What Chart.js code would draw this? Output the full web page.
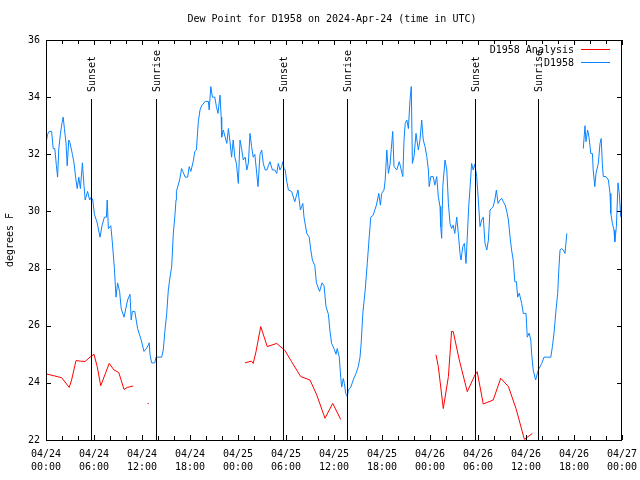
<!DOCTYPE html>
<html>
<head>
<meta charset="utf-8">
<style>
html,body{margin:0;padding:0;background:#fff;}
canvas{display:block;}
</style>
<script src="https://cdn.jsdelivr.net/npm/chart.js@4/dist/chart.umd.min.js"></script>
</head>
<body>
<canvas id="c" width="640" height="480"></canvas>
<script>
// ---- data (hours since 04/24 00:00 UTC) ----
const chartTitle = "Dew Point for D1958 on 2024-Apr-24 (time in UTC)";
const yAxisLabel = "degrees F";
const seriesNames = ["D1958 Analysis", "D1958"];
const seriesColors = ["#ff0000", "#0a84ff"];

const xTickLabels = [
  ["04/24","00:00"],["04/24","06:00"],["04/24","12:00"],["04/24","18:00"],
  ["04/25","00:00"],["04/25","06:00"],["04/25","12:00"],["04/25","18:00"],
  ["04/26","00:00"],["04/26","06:00"],["04/26","12:00"],["04/26","18:00"],
  ["04/27","00:00"]
];
const yTickValues = [22,24,26,28,30,32,34,36];

const eventTimes  = [5.66, 13.79, 29.66, 37.66, 53.66, 61.54];
const eventLabels = ["Sunset","Sunrise","Sunset","Sunrise","Sunset","Sunrise"];

const blueTimes = [
0,0.2,0.4,0.7,0.9,1.1,1.3,1.45,1.6,1.8,2.0,2.15,2.3,2.5,2.65,2.85,3.0,3.3,3.5,3.7,3.9,4.1,4.3,4.55,4.75,4.9,5.2,5.45,5.65,5.85,
6.05,6.4,6.75,7.0,7.3,7.55,7.65,7.8,8.1,8.3,8.55,8.75,8.95,9.2,9.4,9.75,10.2,10.5,10.65,10.8,11.1,11.45,11.9,12.25,12.55,12.75,12.9,13.0,13.2,13.6,
13.75,14.46,14.66,14.875,15.09,15.29,15.5,15.71,15.91,16.125,16.25,16.3,16.7,16.95,17.1,17.4,17.7,17.9,18.1,18.4,18.6,18.8,19.04,19.25,19.46,19.9,20.3,20.4,20.6,20.8,
21.1,21.3,21.5,21.75,21.9,21.96,22.16,22.4,22.6,22.8,23.0,23.2,23.4,23.6,23.8,24.04,24.25,24.45,24.66,24.9,25.1,25.3,25.5,25.7,25.9,26.1,26.3,26.5,26.75,26.96,
27.16,27.4,27.6,27.8,28.0,28.3,28.6,28.84,29.04,29.25,29.46,29.6,29.75,29.9,30.1,30.3,30.7,31.1,31.5,31.8,32.1,32.25,32.6,32.9,33.1,33.3,33.6,33.8,34.2,34.5,
34.75,35.0,35.3,35.5,35.7,36.0,36.25,36.4,36.66,36.84,36.96,37.16,37.3,37.46,37.66,37.8,38.1,38.4,38.75,39.04,39.25,39.4,39.6,39.9,40.16,40.4,40.6,40.9,41.1,41.3,
41.6,41.8,41.96,42.25,42.4,42.6,42.8,43.0,43.34,43.5,43.84,44.16,44.6,44.75,44.9,45.1,45.3,45.5,45.66,45.8,46.0,46.25,46.54,46.75,46.96,47.16,47.375,47.6,47.8,47.9,
48.1,48.4,48.6,48.84,49.04,49.25,49.34,49.46,49.6,49.875,50.1,50.3,50.5,50.7,50.9,51.1,51.34,51.54,51.75,51.875,52.1,52.3,52.5,52.66,52.84,53.0,53.2,53.4,53.6,53.84,
54.04,54.25,54.46,54.66,54.875,55.1,55.3,55.5,55.7,55.9,56.1,56.3,56.5,56.75,56.96,57.16,57.4,57.6,57.8,58.0,58.2,58.4,58.6,58.8,58.96,59.16,59.46,59.66,60.0,60.16,
60.4,60.6,60.7,60.9,61.2,61.54,61.96,62.25,62.6,63.1,63.3,63.5,63.75,63.96,64.1,64.25,64.46,64.66,64.875,65.1,
66,
67.16,67.375,67.5,67.7,67.875,68.1,68.3,68.4,68.6,68.75,69.04,69.25,69.4,69.54,69.66,70.0,70.3,70.5,70.6,70.8,71.0,71.1,71.3,71.5,71.66,71.84,71.95
];
const blueValues = [
32.4,32.7,32.8,32.8,32.2,32.2,31.6,31.2,32.2,32.7,33.1,33.3,32.9,32.4,31.6,32.5,32.4,32.0,31.7,31.2,30.8,31.2,30.8,31.7,30.9,30.4,30.7,30.4,30.5,30.4,
29.9,29.6,29.1,29.5,29.8,29.8,30.4,29.4,29.5,28.9,28.0,27.0,27.5,27.2,26.6,26.3,26.9,27.1,26.2,26.5,26.5,25.9,25.5,25.1,25.2,25.3,25.4,25.0,24.7,24.7,
24.9,24.9,25.15,25.85,26.44,27.25,27.7,28.06,29.2,29.9,30.4,30.7,31.1,31.5,31.4,31.2,31.2,31.57,31.4,31.74,32.1,32.15,33.14,33.55,33.7,33.85,33.85,33.55,34.37,34.0,
34.0,33.67,33.43,34.07,33.3,32.6,32.85,32.6,32.38,32.9,32.44,31.9,32.5,31.9,31.68,30.98,32.5,32.2,31.8,31.9,31.45,31.7,32.73,32.27,31.9,32.0,31.45,30.87,32.0,32.15,
31.68,31.45,31.45,31.6,31.74,31.45,31.45,31.33,31.68,31.45,31.57,31.74,31.5,31.45,31.04,30.75,30.7,30.34,30.75,30.05,30.28,29.8,29.23,29.1,28.65,28.3,28.1,27.5,27.2,27.5,
27.4,26.67,26.4,25.8,25.38,25.2,25.0,25.2,24.9,24.2,23.85,24.15,23.98,23.63,23.52,23.75,23.85,24.1,24.33,24.57,24.9,25.4,26.43,27.25,28.18,29.1,29.8,29.87,30.05,30.22,
30.63,30.22,30.63,30.75,31.1,32.15,31.33,31.63,32.8,31.57,31.45,31.74,31.22,32.5,33.08,33.2,32.9,33.9,34.37,31.68,31.92,32.73,32.15,32.5,33.2,32.5,32.27,31.92,31.45,30.87,
31.22,31.22,30.92,31.22,30.52,30.17,29.47,29.06,30.87,31.8,31.45,30.28,29.58,29.4,29.52,29.23,29.8,29.23,28.53,28.3,28.77,28.88,28.18,29.1,30.17,30.8,31.68,31.45,31.65,31.22,
30.4,29.47,29.7,29.8,28.88,28.65,29.0,30.05,30.1,30.17,30.4,30.75,30.28,30.4,30.46,30.34,30.22,29.99,29.7,29.12,28.65,28.3,27.54,27.54,27.0,27.14,26.78,26.43,26.43,25.6,
25.74,25.5,25.03,24.45,24.1,24.45,24.68,24.9,24.9,24.9,25.27,25.74,26.55,27.13,27.95,28.65,28.7,28.65,28.53,29.23,
null,
32.2,33.0,32.44,32.85,32.6,32.03,32.03,31.45,30.87,31.33,31.68,32.38,32.55,31.68,31.22,31.22,31.1,30.63,29.93,29.58,29.35,28.94,29.47,31.0,30.63,29.82,30.4
];

const redTimes = [
0.08,1.1,1.96,2.9,3.2,3.75,4.3,4.9,5.5,6.0,6.4,6.84,7.4,7.9,8.5,9.1,9.75,10.16,10.9,
11.8,
12.7,12.85,
18,
24.875,25.7,25.9,26.25,26.84,27.66,28.84,29.875,30.7,31.84,33.0,33.84,34.875,35.84,36.84,
42,
48.75,49.04,49.66,50.3,50.7,50.9,51.66,52.66,53.625,53.9,54.66,55.9,56.84,57.8,58.75,59.8,60.8
];
const redValues = [
24.31,24.24,24.18,23.84,24.1,24.78,24.76,24.75,24.9,25.0,24.57,23.9,24.31,24.68,24.45,24.36,23.77,23.84,23.89,
null,
23.28,23.28,
null,
24.7,24.76,24.68,25.09,25.97,25.27,25.38,25.13,24.74,24.22,24.1,23.58,22.76,23.28,22.72,
null,
24.98,24.57,23.1,24.22,25.8,25.8,24.8,23.69,24.28,24.39,23.26,23.4,24.16,23.87,23.1,22.02,22.23
];

const FONT = "DejaVu Sans Mono";

function toXY(ts, vs){ return ts.map((t,i)=>({x:t, y:vs[i]})); }

const decor = {
  id: 'decor',
  beforeDraw(chart){
    const c = chart.ctx;
    c.save(); c.fillStyle = '#fff'; c.fillRect(0,0,chart.width,chart.height); c.restore();
  },
  afterDatasetsDraw(chart){
    const c = chart.ctx, a = chart.chartArea;
    const xs = chart.scales.x, ys = chart.scales.y;
    c.save();
    c.strokeStyle = '#000'; c.lineWidth = 1;
    // event lines
    c.font = "10px '" + FONT + "'";
    c.fillStyle = '#000';
    eventTimes.forEach((t,i)=>{
      const px = Math.round(xs.getPixelForValue(t)) + 0.5;
      c.beginPath(); c.moveTo(px, a.top + 59); c.lineTo(px, a.bottom); c.stroke();
      c.save();
      c.translate(px + 1, a.top + 52);
      c.rotate(-Math.PI/2);
      c.textAlign = 'left'; c.textBaseline = 'middle';
      c.fillText(eventLabels[i], 0, 0);
      c.restore();
    });
    // border
    c.strokeRect(a.left + 0.5, a.top + 0.5, a.right - a.left - 1, a.bottom - a.top);
    // x ticks (every 2 h, major every 6 h)
    for (let t = xs.min; t <= xs.max + 1e-9; t += 2) {
      const px = Math.round(xs.getPixelForValue(t)) + 0.5;
      const len = (t % 6 === 0) ? 5 : 4;
      c.beginPath();
      c.moveTo(px, a.bottom); c.lineTo(px, a.bottom - len);
      c.moveTo(px, a.top); c.lineTo(px, a.top + len);
      c.stroke();
    }
    // y ticks
    yTickValues.forEach(v=>{
      const py = Math.round(ys.getPixelForValue(v)) + 0.5;
      c.beginPath();
      c.moveTo(a.left, py); c.lineTo(a.left + 5, py);
      c.moveTo(a.right, py); c.lineTo(a.right - 5, py);
      c.stroke();
    });
    // legend
    c.textAlign = 'right'; c.textBaseline = 'middle';
    chart.data.datasets.forEach((ds,i)=>{
      const ly = a.top + 10 + i * 13;
      c.fillStyle = '#000';
      c.fillText(ds.label, 574, ly);
      c.strokeStyle = ds.borderColor;
      c.beginPath(); c.moveTo(581, Math.round(ly) - 0.5); c.lineTo(610, Math.round(ly) - 0.5); c.stroke();
    });
    c.restore();
  },
  afterDraw(chart){
    const c = chart.ctx, a = chart.chartArea;
    c.save();
    c.fillStyle = '#000';
    c.font = "10px '" + FONT + "'";
    c.textAlign = 'center'; c.textBaseline = 'middle';
    c.fillText(chartTitle, (a.left + a.right)/2 - 2, 19);
    c.translate(10, 240);
    c.rotate(-Math.PI/2);
    c.fillText(yAxisLabel, 0, 0);
    c.restore();
  }
};

new Chart(document.getElementById('c'), {
  type: 'line',
  data: {
    datasets: [
      { label: seriesNames[0], data: toXY(redTimes, redValues), borderColor: seriesColors[0],
        borderWidth: 1, pointRadius: 0, tension: 0, spanGaps: false, fill: false },
      { label: seriesNames[1], data: toXY(blueTimes, blueValues), borderColor: seriesColors[1],
        borderWidth: 1, pointRadius: 0, tension: 0, spanGaps: false, fill: false }
    ]
  },
  options: {
    responsive: false,
    animation: false,
    events: [],
    layout: { padding: { left: 0, right: 18, top: 40, bottom: 0 } },
    plugins: { legend: { display: false }, title: { display: false }, tooltip: { enabled: false } },
    scales: {
      x: {
        type: 'linear', min: 0, max: 72,
        grid: { display: false, drawTicks: false },
        border: { display: false },
        afterFit(s){ s.height = 40; s.paddingLeft = 0; s.paddingRight = 0; },
        afterBuildTicks(s){ s.ticks = xTickLabels.map((_,i)=>({ value: i * 6 })); },
        ticks: {
          autoSkip: false, maxRotation: 0, minRotation: 0, padding: 8,
          color: '#000', font: { family: FONT, size: 10, lineHeight: 1.3 },
          callback: (v) => xTickLabels[Math.round(v / 6)]
        }
      },
      y: {
        type: 'linear', min: 22, max: 36,
        grid: { display: false, drawTicks: false },
        border: { display: false },
        afterFit(s){ s.width = 46; s.paddingTop = 0; s.paddingBottom = 0; },
        afterBuildTicks(s){ s.ticks = yTickValues.map(v=>({ value: v })); },
        ticks: {
          padding: 6, color: '#000', font: { family: FONT, size: 10 },
          callback: (v) => String(v)
        }
      }
    }
  },
  plugins: [decor]
});
</script>
</body>
</html>
